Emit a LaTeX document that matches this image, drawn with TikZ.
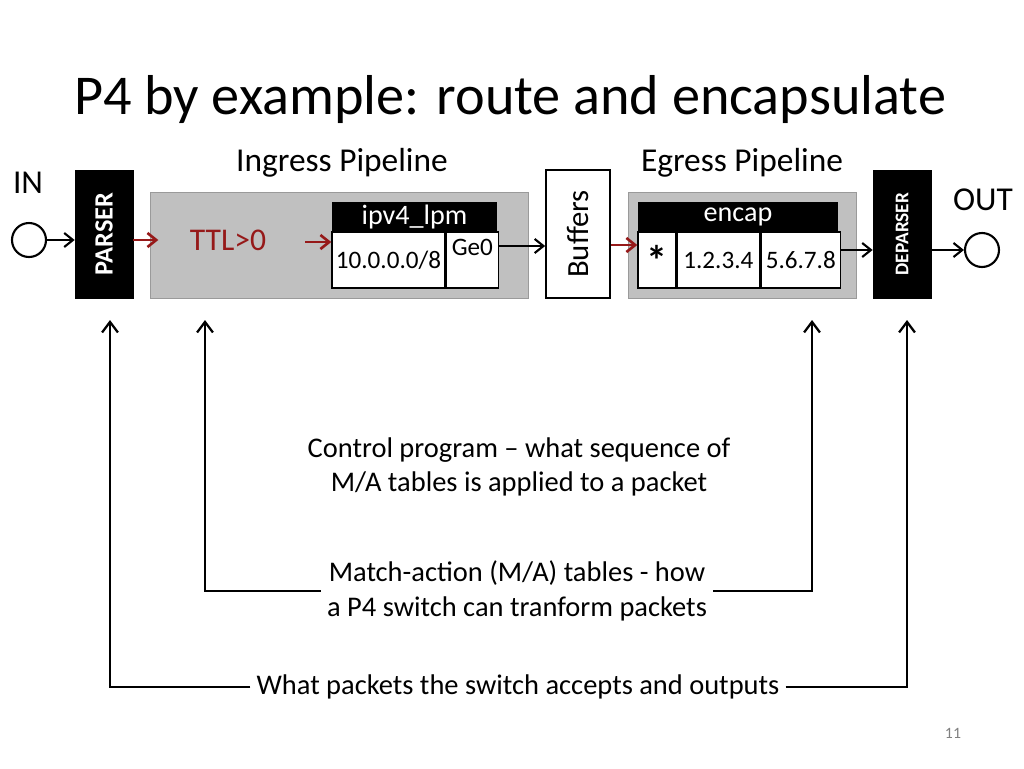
\documentclass[tikz,border=0pt]{standalone}
\usepackage{fontspec}
\setmainfont{Carlito}
\usetikzlibrary{positioning,arrows.meta}
\definecolor{ttlred}{RGB}{150,25,25}
\definecolor{pipegray}{RGB}{192,192,192}
\tikzset{
  blk/.style={draw=black,fill=black,minimum width=1.16cm,minimum height=2.56cm,inner sep=0pt},
  pipe/.style={fill=pipegray,draw=pipegray!80!black,line width=0.4pt},
  hdr/.style={fill=black,text=white,inner sep=0pt,font=\fontsize{16}{18}\selectfont},
  cell/.style={draw=black,line width=0.8pt,fill=white,inner sep=0pt,font=\fontsize{14.3}{16}\selectfont},
  arr/.style={-{Straight Barb[length=5pt,width=8pt]},line width=1.2pt},
  redarr/.style={arr,ttlred,line width=1.5pt},
  up/.style={-{Straight Barb[length=6pt,width=9pt]},line width=1.3pt},
  lbl/.style={font=\fontsize{16.2}{19.5}\selectfont,align=center}
}
\begin{document}
\begin{tikzpicture}[x=0.02cm,y=-0.02cm]
\useasboundingbox (0,0) rectangle (1024,768);

\node[font=\fontsize{32}{36}\selectfont,anchor=west] (title) at (68,100) {P4 by example: route and encapsulate};
\node[lbl,font=\fontsize{19}{22}\selectfont] (ing) at (342,163) {Ingress Pipeline};
\node[lbl,font=\fontsize{19}{22}\selectfont] (egr) at (742,163) {Egress Pipeline};
\node[lbl,font=\fontsize{19}{22}\selectfont] (in) at (28,183) {IN};
\node[lbl,font=\fontsize{19}{22}\selectfont] (out) at (983,200) {OUT};

% pipelines
\draw[pipe] (150,192) rectangle (528,298);
\draw[pipe] (628,192) rectangle (856,298);

% parser / buffers / deparser
\node[blk] (parser) at (104,234) {};
\node[rotate=90,text=white,font=\bfseries\fontsize{15}{17}\selectfont] at (parser) {PARSER};
\node[draw=black,line width=1pt,fill=white,minimum width=1.28cm,minimum height=2.56cm] (buf) at (578,234) {};
\node[rotate=90,font=\fontsize{17.5}{20}\selectfont] at (buf) {Buffers};
\node[blk] (deparser) at (902,234) {};
\node[rotate=90,text=white,font=\bfseries\fontsize{11}{13}\selectfont] at (deparser) {DEPARSER};

\node[draw=black,line width=1.2pt,circle,minimum size=0.68cm,inner sep=0pt] (src) at (29,240) {};
\node[draw=black,line width=1.2pt,circle,minimum size=0.68cm,inner sep=0pt] (dst) at (982,250) {};

% ingress
\node[text=ttlred,font=\fontsize{18}{20}\selectfont] (ttl) at (228,240) {TTL>0};
\node[hdr,minimum width=3.3cm,minimum height=0.6cm] (lpmh) at (414.5,217) {ipv4\_lpm};
\node[cell,minimum width=2.26cm,minimum height=1.12cm] (lpmk) at (388.5,260) {10.0.0.0/8};
\node[cell,minimum width=1.04cm,minimum height=1.12cm,anchor=west] (lpmv) at (lpmk.east) {};
\node[cell,draw=none,fill=none,anchor=north] at ([yshift=-0.14cm]lpmv.north) {Ge0};

% egress
\node[hdr,minimum width=4cm,minimum height=0.6cm] (enh) at (738,217) {encap};
\node[cell,minimum width=0.76cm,minimum height=1.12cm,font=\bfseries\fontsize{24}{24}\selectfont] (enk) at (657,260) {*};
\node[cell,minimum width=1.64cm,minimum height=1.12cm,anchor=west] (ena) at (enk.east) {1.2.3.4};
\node[cell,minimum width=1.6cm,minimum height=1.12cm,anchor=west] (enb) at (ena.east) {5.6.7.8};

% data path
\draw[arr] (src.east) -- (parser.west|-src);
\draw[redarr] ([yshift=-0.12cm]parser.east) -- +(25,0);
\draw[redarr] (305,242) -- (lpmk.west|-0,242);
\draw[arr] (lpmv.east|-0,246) -- (buf.west|-0,246);
\draw[redarr] (buf.east|-0,245) -- (enk.west|-0,245);
\draw[arr] (enb.east|-0,250) -- (deparser.west|-0,250);
\draw[arr] (deparser.east|-0,250) -- (dst.west);

% explanations
\node[lbl] (ctrl) at (519,467) {Control program -- what sequence of\\M/A tables is applied to a packet};
\node[lbl] (ma) at (517,591) {Match-action (M/A) tables - how\\a P4 switch can tranform packets};
\node[lbl] (pk) at (518,687) {What packets the switch accepts and outputs};

\coordinate (pA) at (110,320);
\coordinate (tA) at (205,320);
\coordinate (tB) at (812,320);
\coordinate (pB) at (907,320);
\draw[up] (pk.west) -- (pA|-pk) -- (pA);
\draw[up] (pk.east) -- (pB|-pk) -- (pB);
\draw[up] (ma.west) -- (tA|-ma) -- (tA);
\draw[up] (ma.east) -- (tB|-ma) -- (tB);

\node[text=gray,font=\fontsize{9}{11}\selectfont] (pg) at (953,733) {11};
\end{tikzpicture}
\end{document}
